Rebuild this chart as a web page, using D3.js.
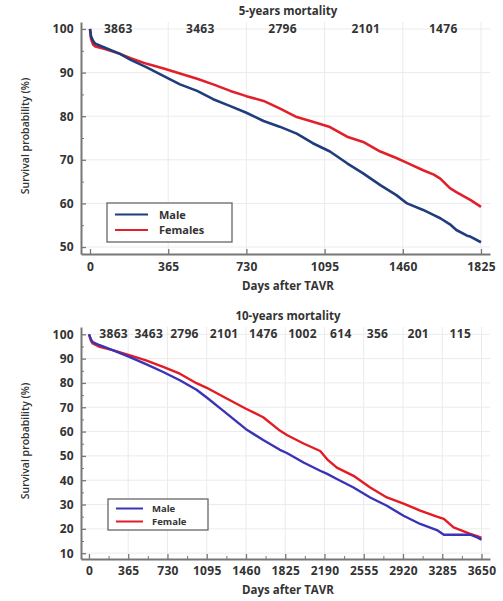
<!DOCTYPE html>
<html>
<head>
<meta charset="utf-8">
<script src="https://cdn.jsdelivr.net/npm/d3@7"></script>
<style>
  body { margin: 0; background: #fff; }
  text { font-family: "Open Sans", sans-serif; fill: #333; }
</style>
</head>
<body>
<svg id="chart" width="503" height="601"></svg>
<script>
// 5-years curves (days after TAVR, survival %).
let days5 = [0, 5, 15, 25, 70, 140, 190, 265, 340, 420, 500, 575, 655, 730, 810, 885, 965, 1040, 1120, 1200, 1275, 1355, 1430, 1480, 1555, 1605, 1635, 1680, 1710, 1760, 1775, 1825];
let male5 = [100, 98.3, 97.2, 96.6, 95.7, 94.3, 92.9, 91.2, 89.3, 87.3, 85.8, 83.9, 82.3, 80.8, 78.9, 77.6, 76.0, 73.8, 71.9, 69.2, 66.9, 64.2, 61.9, 60.0, 58.5, 57.3, 56.6, 55.2, 53.9, 52.6, 52.4, 51.1];
let female5 = [100, 97.7, 96.4, 96.0, 95.4, 94.3, 93.3, 92.0, 91.0, 89.8, 88.6, 87.3, 85.8, 84.6, 83.5, 81.8, 79.8, 78.7, 77.5, 75.3, 74.1, 71.9, 70.4, 69.3, 67.6, 66.6, 65.7, 63.5, 62.6, 61.2, 60.8, 59.2];
let risk5 = [3863, 3463, 2796, 2101, 1476];
let riskDays5 = [132, 515, 899, 1287, 1649];
let xTicks5 = [0, 365, 730, 1095, 1460, 1825];
let yTicks5 = [50, 60, 70, 80, 90, 100];
let legend5 = ["Male", "Females"];

// 10-years curves.
let days10 = [0, 20, 35, 100, 220, 375, 530, 690, 845, 1000, 1095, 1250, 1460, 1620, 1775, 1840, 1995, 2150, 2215, 2305, 2460, 2615, 2770, 2925, 3080, 3235, 3300, 3390, 3545, 3610, 3650];
let male10 = [100, 97.8, 96.8, 95.5, 93.5, 90.7, 87.7, 84.5, 81.1, 77.2, 74.0, 68.5, 61.0, 56.5, 52.5, 51.2, 47.3, 43.9, 42.6, 40.5, 37.0, 32.9, 29.5, 25.4, 22.0, 19.5, 17.6, 17.6, 17.6, 16.5, 15.5];
let female10 = [100, 97.2, 96.2, 94.8, 93.5, 91.4, 89.3, 86.6, 83.8, 79.9, 78.0, 74.3, 69.4, 65.9, 60.4, 58.6, 55.1, 52.0, 48.6, 45.2, 41.8, 37.0, 32.9, 30.4, 27.5, 25.0, 24.1, 20.6, 17.9, 17.0, 16.3];
let risk10 = [3863, 3463, 2796, 2101, 1476, 1002, 614, 356, 201, 115];
let riskDays10 = [230, 556, 888, 1257, 1622, 1986, 2342, 2683, 3062, 3453];
let xTicks10 = [0, 365, 730, 1095, 1460, 1825, 2190, 2555, 2920, 3285, 3650];
let yTicks10 = [10, 20, 30, 40, 50, 60, 70, 80, 90, 100];
let legend10 = ["Male", "Female"];

let svg = d3.select("#chart");

function drawPanel(p) {
    let x = d3.scaleLinear().domain(p.xDom).range([81, 490]);
    let y = d3.scaleLinear().domain(p.yDom).range([p.bottom, p.top]);
    let g = svg.append("g");

    // Light grid.
    g.append("g").selectAll("line.h")
     .data(p.yTicks).enter().append("line")
     .attr("x1", 83).attr("x2", 490)
     .attr("y1", d => y(d)).attr("y2", d => y(d))
     .attr("stroke", "#ebebeb").attr("stroke-width", 1);
    g.append("g").selectAll("line.v")
     .data(p.xTicks.filter(d => d > 0)).enter().append("line")
     .attr("x1", d => x(d)).attr("x2", d => x(d))
     .attr("y1", p.top).attr("y2", p.bottom)
     .attr("stroke", "#ebebeb").attr("stroke-width", 1);

    // Minor ticks.
    let minorY = d3.range(p.yTicks[0] + 5, 100, 10);
    g.append("g").attr("transform", "translate(81,0)")
     .call(d3.axisLeft(y).tickValues(minorY).tickSize(-3).tickFormat(""))
     .call(a => a.select(".domain").remove())
     .selectAll("line").attr("stroke", "#777");
    if (p.minorX) {
        let minorX = p.xTicks.slice(1).map(d => d - 182.5);
        g.append("g").attr("transform", "translate(0," + p.bottom + ")")
         .call(d3.axisBottom(x).tickValues(minorX).tickSize(-3).tickFormat(""))
         .call(a => a.select(".domain").remove())
         .selectAll("line").attr("stroke", "#777");
    }

    // Y axis.
    let ya = g.append("g").attr("transform", "translate(81,0)")
              .call(d3.axisLeft(y).tickValues(p.yTicks).tickFormat(d3.format("d"))
                      .tickSizeInner(-5).tickSizeOuter(0).tickPadding(7));
    ya.select(".domain").attr("stroke", "#777").attr("stroke-width", 2);
    ya.selectAll("line").attr("stroke", "#777").attr("stroke-width", 1.3);
    ya.selectAll("text").style("font-size", "12px").style("font-weight", 700)
      .style("letter-spacing", "0.3px").attr("fill", "#333");

    // X axis.
    let xa = g.append("g").attr("transform", "translate(0," + p.bottom + ")")
              .call(d3.axisBottom(x).tickValues(p.xTicks).tickFormat(d3.format("d"))
                      .tickSizeInner(-5).tickSizeOuter(0).tickPadding(p.xPad));
    xa.select(".domain").attr("stroke", "#777").attr("stroke-width", 2);
    xa.selectAll("line").attr("stroke", "#777").attr("stroke-width", 1.3);
    xa.selectAll("text").style("font-size", "12px").style("font-weight", 700)
      .style("letter-spacing", "0.3px").attr("fill", "#333");

    // Survival curves.
    let line = d3.line().x(d => x(d[0])).y(d => y(d[1]));
    g.append("path").datum(d3.zip(p.days, p.female))
     .attr("fill", "none").attr("stroke", p.colors[1]).attr("stroke-width", p.lw)
     .attr("stroke-linejoin", "round").attr("d", line);
    g.append("path").datum(d3.zip(p.days, p.male))
     .attr("fill", "none").attr("stroke", p.colors[0]).attr("stroke-width", p.lw)
     .attr("stroke-linejoin", "round").attr("d", line);

    // Numbers at risk.
    g.append("g").selectAll("text")
     .data(d3.zip(p.riskDays, p.risk)).enter().append("text")
     .attr("x", d => x(d[0])).attr("y", y(100) + 4)
     .attr("text-anchor", "middle")
     .style("font-size", "12px").style("font-weight", 700).style("letter-spacing", "0.3px")
     .text(d => d[1]);

    // Titles.
    g.append("text").attr("x", 288).attr("y", p.titleY)
     .attr("text-anchor", "middle").style("font-size", "11.5px").style("font-weight", 700)
     .text(p.title);
    g.append("text").attr("x", 288).attr("y", p.xLabelY)
     .attr("text-anchor", "middle").style("font-size", "11.5px").style("font-weight", 700)
     .text("Days after TAVR");
    g.append("text")
     .attr("transform", "translate(29," + p.yLabelMid + ") rotate(-90)")
     .attr("text-anchor", "middle").style("font-size", "10.5px").style("font-weight", 600)
     .text("Survival probability (%)");

    // Legend.
    let L = p.legendBox;
    g.append("rect").attr("x", L.x).attr("y", L.y).attr("width", L.w).attr("height", L.h)
     .attr("fill", "#fff").attr("stroke", "#666").attr("stroke-width", 1.3);
    p.legend.forEach(function(name, i) {
        let ly = L.y + L.first + i * L.step;
        g.append("line").attr("x1", L.x + 8).attr("x2", L.x + L.lineW)
         .attr("y1", ly).attr("y2", ly)
         .attr("stroke", p.colors[i]).attr("stroke-width", 2);
        g.append("text").attr("x", L.x + L.textX).attr("y", ly + L.dy)
         .style("font-size", L.font).style("font-weight", 700)
         .text(name);
    });
}

drawPanel({
    title: "5-years mortality", titleY: 15, xLabelY: 290, yLabelMid: 136, xPad: 8.5,
    top: 22, bottom: 254, xDom: [-42, 1867], yDom: [48.4, 101.6],
    days: days5, male: male5, female: female5, risk: risk5, riskDays: riskDays5,
    xTicks: xTicks5, yTicks: yTicks5, legend: legend5, minorX: false,
    colors: ["#1f3d7c", "#e2202a"], lw: 2.6,
    legendBox: {x: 107, y: 203, w: 125, h: 39, first: 11.5, step: 15.5, lineW: 41, textX: 52, font: "11px", dy: 4}
});

drawPanel({
    title: "10-years mortality", titleY: 320, xLabelY: 594, yLabelMid: 441, xPad: 7.5,
    top: 327, bottom: 559, xDom: [-74, 3729], yDom: [7.6, 103],
    days: days10, male: male10, female: female10, risk: risk10, riskDays: riskDays10,
    xTicks: xTicks10, yTicks: yTicks10, legend: legend10, minorX: true,
    colors: ["#3a33b8", "#e31c24"], lw: 2.4,
    legendBox: {x: 108, y: 499, w: 100, h: 31, first: 9.5, step: 13, lineW: 35, textX: 44, font: "9.5px", dy: 3.5}
});
</script>
</body>
</html>
